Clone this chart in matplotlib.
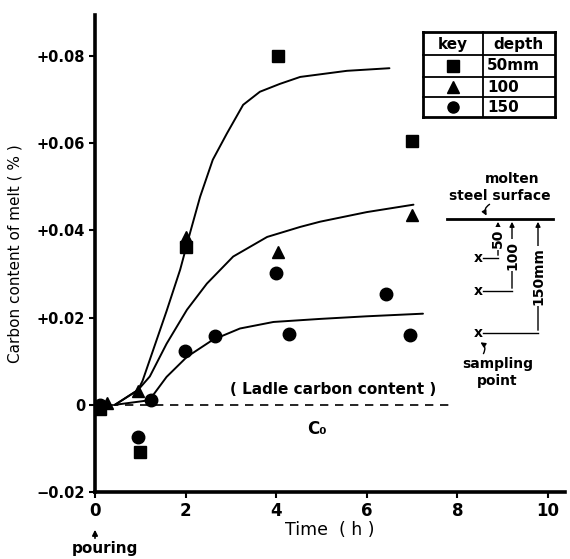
import matplotlib.pyplot as plt
from matplotlib.lines import Line2D

# Measured points, time (h) vs carbon content (%)
t_50 = [0.1, 1.0, 2.0, 4.05, 7.0]
c_50 = [-0.001, -0.0108, 0.0362, 0.0800, 0.0605]

t_100 = [0.26, 0.95, 2.0, 4.05, 7.0]
c_100 = [0.0005, 0.0032, 0.0385, 0.0350, 0.0435]

t_150 = [0.1, 0.95, 1.24, 1.99, 2.65, 4.0, 4.28, 6.42, 6.95]
c_150 = [0.0, -0.0073, 0.001, 0.0124, 0.0157, 0.0302, 0.0162, 0.0255, 0.0160]

# Fitted curves
curve_t_50 = [0.44, 0.95, 1.05, 1.58, 1.88, 2.1, 2.32, 2.6, 2.91, 3.27, 3.64, 4.08, 4.53, 5.56, 6.5]
curve_c_50 = [0.0, 0.0034, 0.0055, 0.0215, 0.031, 0.0395, 0.0477, 0.0562, 0.0622, 0.0688,
              0.0718, 0.0736, 0.0752, 0.0766, 0.0772]

curve_t_100 = [0.44, 0.95, 1.21, 1.58, 2.03, 2.47, 3.05, 3.8, 4.53, 4.97, 6.0, 7.03]
curve_c_100 = [0.0, 0.0034, 0.0065, 0.014, 0.0218, 0.0278, 0.034, 0.0385, 0.0408, 0.042,
               0.0442, 0.0459]

curve_t_150 = [0.44, 1.17, 1.21, 1.58, 2.03, 2.6, 3.2, 3.94, 4.97, 6.0, 7.24]
curve_c_150 = [0.0, 0.001, 0.0012, 0.0064, 0.011, 0.0149, 0.0175, 0.019, 0.0197, 0.0203, 0.0209]

x_ticks = [0, 2, 4, 6, 8, 10]
y_ticks = [-0.02, 0, 0.02, 0.04, 0.06, 0.08]
y_ticklabels = ["\u22120.02", "0", "+0.02", "+0.04", "+0.06", "+0.08"]

plt.rcParams["font.family"] = ["DejaVu Sans"]
plt.rcParams["font.weight"] = "bold"

fig = plt.figure(figsize=(5.7, 5.59), dpi=100)
ax = fig.add_axes([95 / 570, 1 - 492 / 559, 470 / 570, 477 / 559])


def P(x, y):
    # pixel position in the figure -> axes fraction
    return ((x - 95) / 470, (492 - y) / 477)


for t, c in [(curve_t_50, curve_c_50), (curve_t_100, curve_c_100), (curve_t_150, curve_c_150)]:
    ax.plot(t, c, color="black", lw=1.4, solid_capstyle="round", solid_joinstyle="round")

ax.plot(t_50, c_50, "s", color="black", ms=8.5, zorder=3)
ax.plot(t_100, c_100, "^", color="black", ms=9, zorder=3)
ax.plot(t_150, c_150, "o", color="black", ms=9, zorder=3)

# Ladle carbon content
ax.plot([0, 7.9], [0, 0], color="black", lw=1.2, dashes=(5, 4))
ax.text(5.25, 0.0035, "( Ladle carbon content )", ha="center", va="center", fontsize=11)
ax.text(4.9, -0.0055, "C\u2080", ha="center", va="center", fontsize=12)

ax.set_xlim(0, (565 - 95) / 45.3)
ax.set_ylim(-0.02, 0.08 + 41 / 4360)
ax.set_xticks(x_ticks)
ax.set_xticklabels([str(v) for v in x_ticks])
ax.set_yticks(y_ticks)
ax.set_yticklabels(y_ticklabels)
ax.tick_params(direction="out", length=4, width=1.5, pad=3)
ax.tick_params(axis="x", labelsize=12)
ax.tick_params(axis="y", labelsize=10.5)

for s in ["top", "right"]:
    ax.spines[s].set_visible(False)
for s in ["left", "bottom"]:
    ax.spines[s].set_linewidth(2.6)

ax.set_xlabel("Time  ( h )", fontsize=12.5, labelpad=1)
ax.set_ylabel("Carbon content of melt ( % )", fontsize=11, labelpad=10)

# pouring marker
ax.annotate("", xy=P(95, 527), xytext=P(95, 541), xycoords="axes fraction",
            arrowprops=dict(arrowstyle="-|>", color="black", lw=1.2, mutation_scale=8),
            annotation_clip=False)
ax.text(*P(105, 549), "pouring", transform=ax.transAxes, ha="center", va="center", fontsize=11)

# key table
tr = ax.transAxes
bx0, bx1, bxm = 423, 555, 483
rows = [32, 55, 77, 97, 117]
for y in rows:
    lw = 2.0 if y in (32, 117) else 1.3
    ax.add_line(Line2D(*zip(P(bx0, y), P(bx1, y)), transform=tr, color="black", lw=lw))
for x in (bx0, bx1):
    ax.add_line(Line2D(*zip(P(x, rows[0]), P(x, rows[-1])), transform=tr, color="black", lw=2.0))
ax.add_line(Line2D(*zip(P(bxm, rows[0]), P(bxm, rows[-1])), transform=tr, color="black", lw=1.3))

ax.text(*P(453, 44), "key", transform=tr, ha="center", va="center", fontsize=11)
ax.text(*P(519, 44), "depth", transform=tr, ha="center", va="center", fontsize=11)
for marker, label, yc in [("s", "50mm", 66), ("^", "100", 87), ("o", "150", 107)]:
    ax.plot(*P(453, yc), marker, color="black", ms=8, transform=tr, clip_on=False)
    ax.text(*P(487, yc), label, transform=tr, ha="left", va="center", fontsize=11)

# sampling sketch
ax.text(*P(512, 179), "molten", transform=tr, ha="center", va="center", fontsize=10)
ax.text(*P(500, 196), "steel surface", transform=tr, ha="center", va="center", fontsize=10)
ax.annotate("", xy=P(488, 218), xytext=P(492, 203), xycoords="axes fraction",
            arrowprops=dict(arrowstyle="-|>", color="black", lw=1, mutation_scale=7,
                            connectionstyle="arc3,rad=0.6"))
ax.add_line(Line2D(*zip(P(447, 219), P(553, 219)), transform=tr, color="black", lw=2.0))

depth_cols = [(498, 258, "50"), (512, 291, "100"), (538, 333, "150mm")]
for xc, yx, lab in depth_cols:
    ax.text(*P(478, yx), "x", transform=tr, ha="center", va="center", fontsize=10)
    ax.add_line(Line2D(*zip(P(483, yx), P(xc, yx)), transform=tr, color="black", lw=1.0))
    ax.annotate("", xy=P(xc, 219), xytext=P(xc, yx), xycoords="axes fraction",
                arrowprops=dict(arrowstyle="-|>", color="black", lw=1.0, mutation_scale=7))
    ymid = (219 + yx) / 2
    ax.text(*P(xc, ymid), lab, transform=tr, ha="center", va="center", fontsize=10,
            rotation=90, bbox=dict(facecolor="white", edgecolor="none", pad=1))

ax.annotate("", xy=P(478, 341), xytext=P(482, 356), xycoords="axes fraction",
            arrowprops=dict(arrowstyle="-|>", color="black", lw=1, mutation_scale=7,
                            connectionstyle="arc3,rad=0.6"))
ax.text(*P(498, 364), "sampling", transform=tr, ha="center", va="center", fontsize=10)
ax.text(*P(497, 381), "point", transform=tr, ha="center", va="center", fontsize=10)

plt.savefig("out.png", dpi=100)
